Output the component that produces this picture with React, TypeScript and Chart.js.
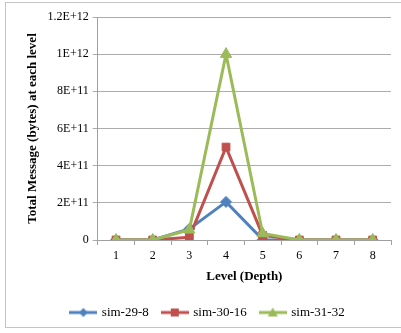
import React, { useEffect, useRef } from "react";
import { Chart, registerables } from "chart.js";

Chart.register(...registerables);

const levels = ["1", "2", "3", "4", "5", "6", "7", "8"];
const sim29_8 = [0, 0, 6e10, 2.05e11, 2e9, 0, 0, 0];
const sim30_16 = [0, 0, 1.5e10, 5e11, 2.5e10, 0, 0, 0];
const sim31_32 = [0, 0, 5.5e10, 1e12, 3.5e10, 0, 0, 0];
const seriesNames = ["sim-29-8", "sim-30-16", "sim-31-32"];
const yTitle = "Total Message (bytes) at each level";
const xTitle = "Level (Depth)";

const FONT = "'Liberation Serif', 'DejaVu Serif', serif";
const BLUE = "#4F81BD";
const RED = "#C0504D";
const GREEN = "#9BBB59";

function fmt(v: number): string {
  if (v === 0) return "0";
  const e = Math.floor(Math.log10(v) + 1e-9);
  const m = Math.round((v / Math.pow(10, e)) * 10) / 10;
  return `${m}E+${e}`;
}

function legendIcon(color: string, style: string): HTMLCanvasElement {
  const c = document.createElement("canvas");
  c.width = 28;
  c.height = 12;
  const ctx = c.getContext("2d")!;
  ctx.strokeStyle = color;
  ctx.fillStyle = color;
  ctx.lineWidth = 3;
  ctx.beginPath();
  ctx.moveTo(0, 6);
  ctx.lineTo(28, 6);
  ctx.stroke();
  ctx.beginPath();
  if (style === "rectRot") {
    ctx.moveTo(14, 1.5);
    ctx.lineTo(18.5, 6);
    ctx.lineTo(14, 10.5);
    ctx.lineTo(9.5, 6);
  } else if (style === "rect") {
    ctx.rect(10, 2, 8, 8);
  } else {
    ctx.moveTo(14, 1);
    ctx.lineTo(19, 10);
    ctx.lineTo(9, 10);
  }
  ctx.closePath();
  ctx.fill();
  return c;
}

export default function App() {
  const ref = useRef<HTMLCanvasElement>(null);
  useEffect(() => {
    const colors = [BLUE, RED, GREEN];
    const styles = ["rectRot", "rect", "triangle"];
    const icons = colors.map((c, i) => legendIcon(c, styles[i]));
    const chart = new Chart(ref.current!, {
      type: "line",
      data: {
        labels: levels,
        datasets: [sim29_8, sim30_16, sim31_32].map((d, i) => ({
          label: seriesNames[i],
          data: d,
          borderColor: colors[i],
          backgroundColor: colors[i],
          borderWidth: 3,
          pointStyle: styles[i] as any,
          pointRadius: i === 2 ? 6.5 : 5.5,
          pointBorderWidth: 1,
          tension: 0,
          order: 2 - i,
        })),
      },
      options: {
        animation: false,
        responsive: false,
        maintainAspectRatio: false,
        layout: { padding: { left: 25, right: 10, top: 17, bottom: 4 } },
        plugins: {
          tooltip: { enabled: false },
          legend: {
            position: "bottom",
            labels: {
              usePointStyle: true,
              pointStyleWidth: 24,
              padding: 14,
              color: "#000",
              font: { family: FONT, size: 13 },
              generateLabels: () =>
                seriesNames.map((n, i) => ({
                  text: n,
                  pointStyle: icons[i] as any,
                  fillStyle: colors[i],
                  strokeStyle: colors[i],
                  lineWidth: 0,
                  hidden: false,
                  datasetIndex: i,
                  fontColor: "#000",
                })),
            },
          },
        },
        scales: {
          x: {
            offset: true,
            grid: {
              offset: true,
              drawOnChartArea: false,
              drawTicks: true,
              tickLength: 5,
              color: "#a0a0a0",
            },
            border: { color: "#a0a0a0" },
            ticks: { color: "#000", font: { family: FONT, size: 12 }, padding: 4 },
            title: {
              display: true,
              text: xTitle,
              color: "#000",
              font: { family: FONT, size: 13, weight: "bold" },
              padding: { top: 1, bottom: 8 },
            },
          },
          y: {
            min: 0,
            max: 1.2e12,
            grid: { color: "#acacac", tickLength: 5 },
            border: { color: "#a0a0a0" },
            ticks: {
              stepSize: 2e11,
              color: "#000",
              font: { family: FONT, size: 12 },
              padding: 4,
              callback: (v: any) => fmt(Number(v)),
            },
            title: {
              display: true,
              text: yTitle,
              color: "#000",
              font: { family: FONT, size: 13, weight: "bold" },
              padding: { top: 0, bottom: 3 },
            },
          },
        },
      },
    });
    return () => chart.destroy();
  }, []);
  return (
    <div style={{ position: "fixed", left: 0, top: 0, width: 401, height: 333, background: "#fff" }}>
      <div
        style={{
          position: "absolute",
          left: 5,
          top: 2,
          width: 400,
          height: 326,
          border: "1px solid #c4c4c4",
          boxSizing: "border-box",
        }}
      />
      <canvas ref={ref} width={401} height={333} style={{ position: "absolute", left: 0, top: 0 }} />
    </div>
  );
}
